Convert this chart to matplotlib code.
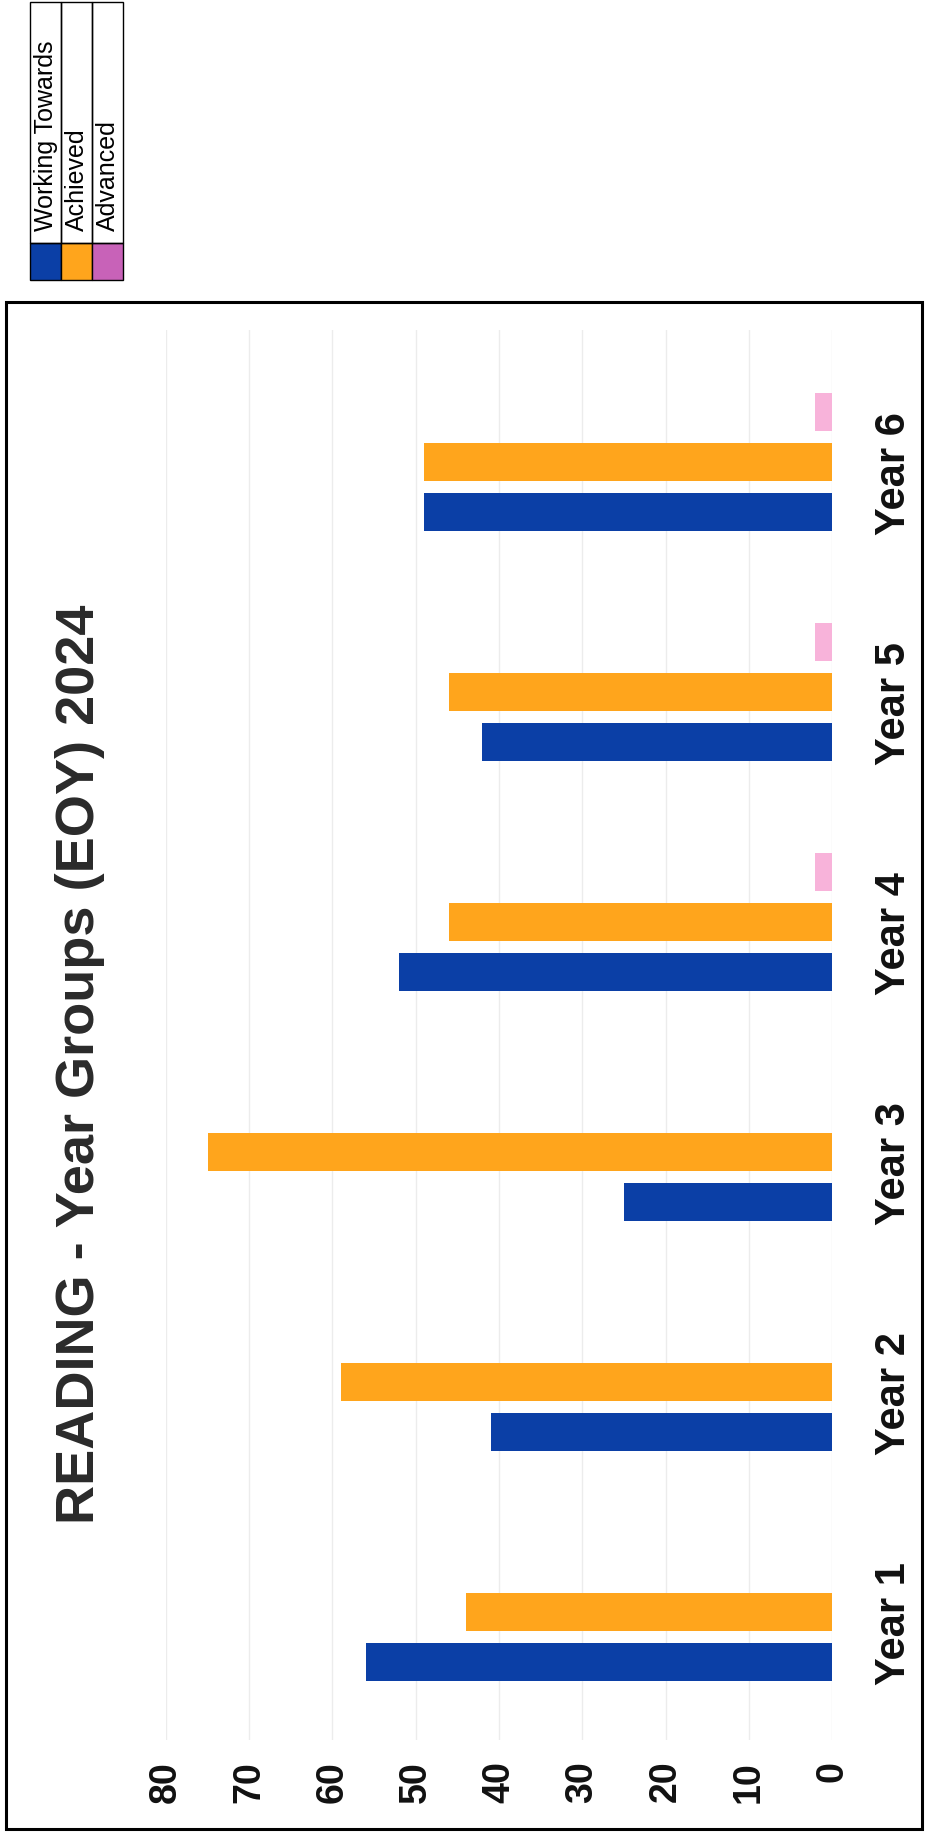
import matplotlib
matplotlib.use('Agg')
import matplotlib.pyplot as plt
from matplotlib.patches import Rectangle

plt.rcParams['font.family'] = ['Liberation Sans', 'DejaVu Sans']

# reading results per year group (% of pupils)
years = ['Year 1', 'Year 2', 'Year 3', 'Year 4', 'Year 5', 'Year 6']
working_towards = [56, 41, 25, 52, 42, 49]
achieved = [44, 59, 75, 46, 46, 49]
advanced = [0, 0, 0, 2, 2, 2]
series_names = ['Working Towards', 'Achieved', 'Advanced']
value_ticks = [0, 10, 20, 30, 40, 50, 60, 70, 80]

bar_colors = ['#0b3fa6', '#ffa51c', '#f8b3da']
key_colors = ['#0b3fa6', '#ffa51c', '#c862b8']

W, H = 926, 1834
fig = plt.figure(figsize=(W / 100, H / 100), dpi=100)


def fx(px):
    return px / W


def fy(py):
    return 1 - py / H


# page is laid out sideways: values run right-to-left, year groups bottom-to-top
ax = fig.add_axes([fx(166), fy(1740), fx(832) - fx(166), fy(330) - fy(1740)])

slot = 0.217
thick = 0.165
series = [working_towards, achieved, advanced]
for k, (vals, c) in enumerate(zip(series, bar_colors)):
    pos = [i + (k - 1) * slot for i in range(len(years))]
    ax.barh(pos, vals, height=thick, color=c, zorder=2)

ax.set_xlim(80, 0)
ax.set_ylim(-0.557, 5.574)

ax.set_xticks(value_ticks)
ax.set_xticklabels([str(v) for v in value_ticks], rotation=90,
                   fontsize=27, fontweight='bold', color='#111111')
ax.tick_params(axis='x', length=0, pad=15)

# year names sit a touch below the middle of each group
ax.yaxis.tick_right()
ax.set_yticks([i - 0.05 for i in range(len(years))])
ax.set_yticklabels(years, rotation=90, va='center',
                   fontsize=30, fontweight='bold', color='#111111')
ax.tick_params(axis='y', length=0, pad=30)

ax.grid(axis='x', color='#ececec', linewidth=1, zorder=0)
ax.set_axisbelow(True)
for s in ax.spines.values():
    s.set_visible(False)

fig.text(fx(80), fy(1064), 'READING - Year Groups (EOY) 2024', rotation=90,
         ha='center', va='center', fontsize=39, fontweight='bold', color='#2a2a2a')

# chart border
fig.patches.append(Rectangle((fx(6), fy(1829)), fx(922) - fx(6), fy(302) - fy(1829),
                             transform=fig.transFigure, fill=False, lw=2.2, ec='black'))

# key in the top corner
col_w = 31
x0, top, split, bottom = 30, 2, 243, 280
for k, (name, c) in enumerate(zip(series_names, key_colors)):
    left = x0 + k * col_w
    fig.patches.append(Rectangle((fx(left), fy(bottom)), fx(col_w), fy(split) - fy(bottom),
                                 transform=fig.transFigure, fc=c, ec='black', lw=1))
    fig.patches.append(Rectangle((fx(left), fy(split)), fx(col_w), fy(top) - fy(split),
                                 transform=fig.transFigure, fill=False, ec='black', lw=1))
    fig.text(fx(left + col_w / 2), fy(split - 12), name, rotation=90, rotation_mode='anchor',
             ha='left', va='center', fontsize=18, color='black')

fig.savefig('out.png', dpi=100, facecolor='white')
